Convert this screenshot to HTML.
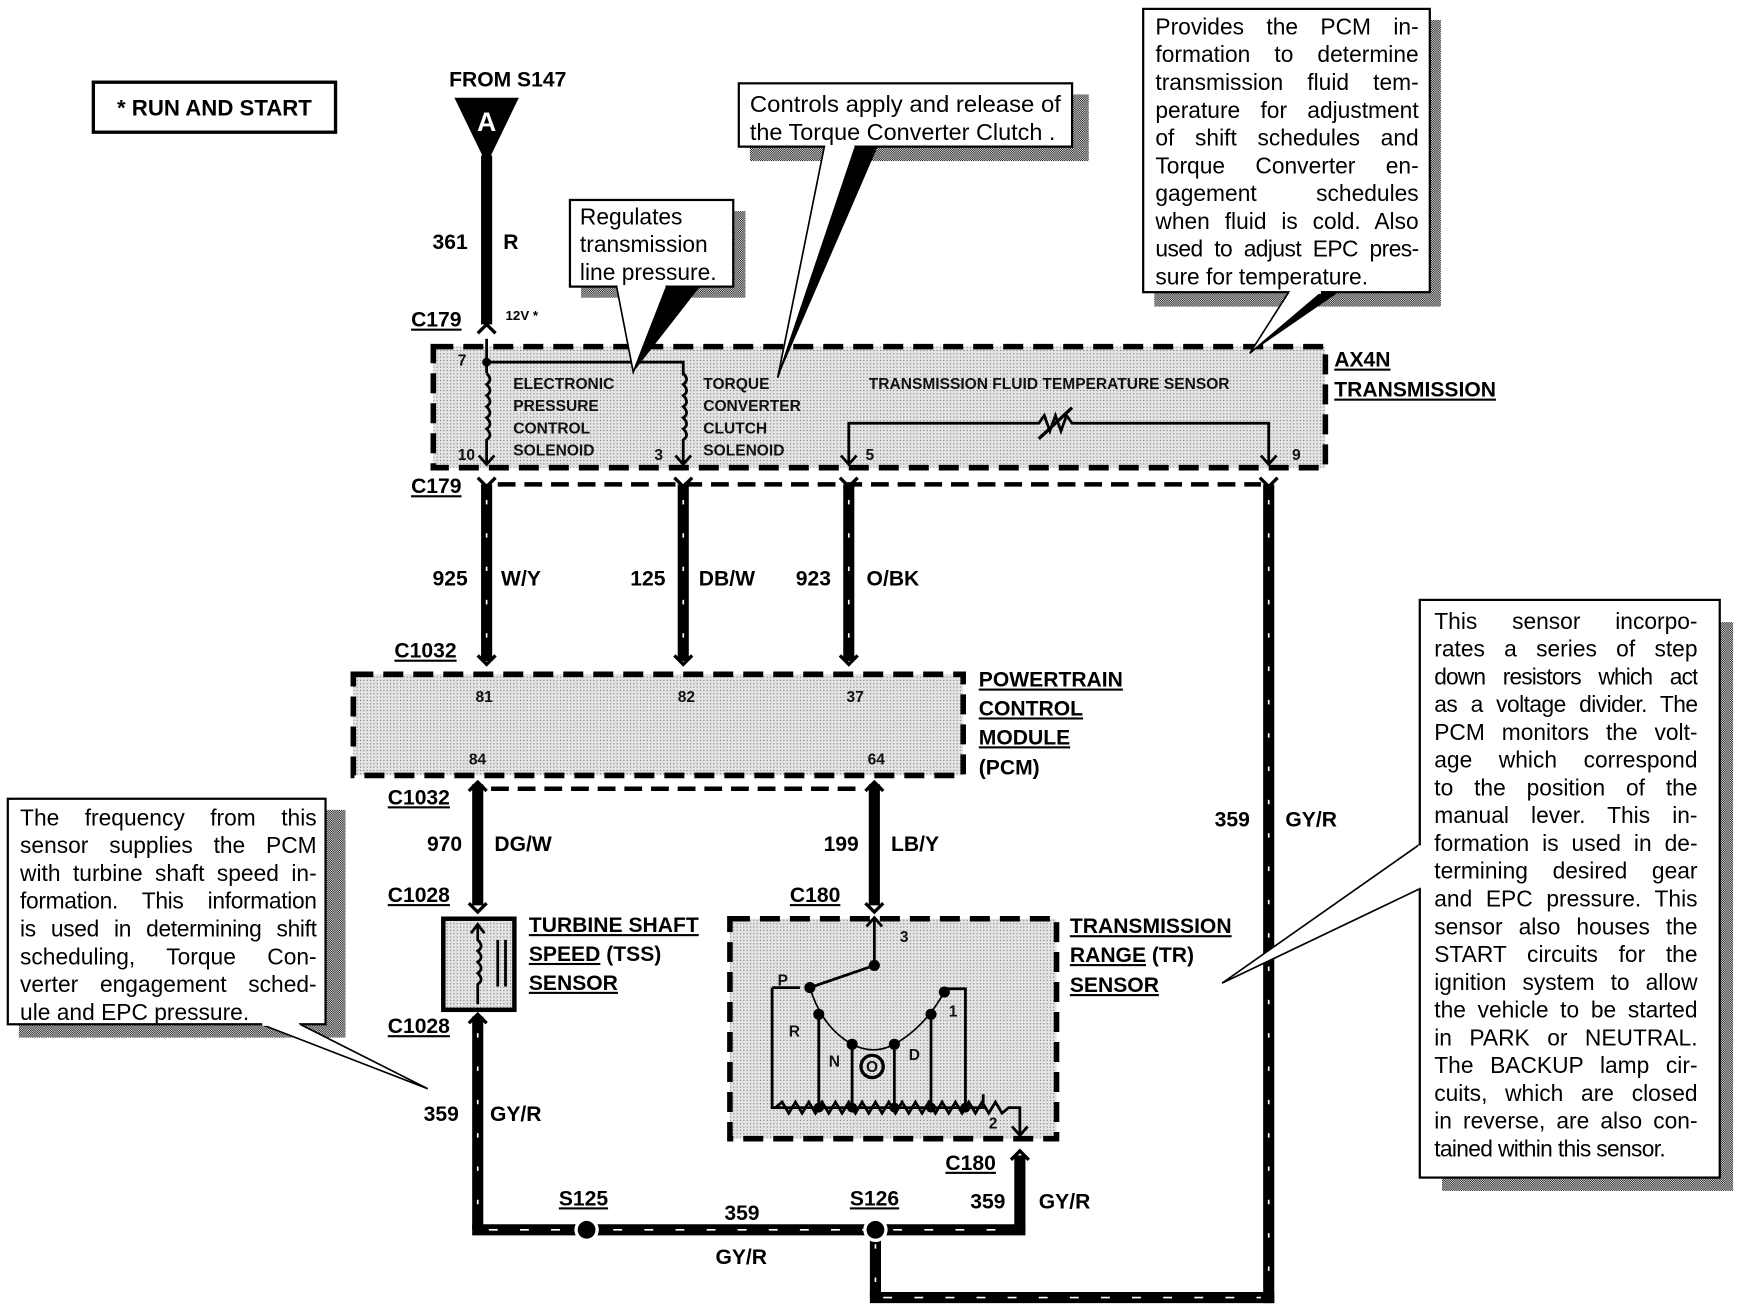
<!DOCTYPE html>
<html><head><meta charset="utf-8"><style>
html,body{margin:0;padding:0;background:#fff;width:1742px;height:1312px;overflow:hidden}
svg{display:block}
text{font-family:"Liberation Sans",Arial,sans-serif}
.b{font-weight:bold}
.lbl{font-weight:bold;font-size:19px}
.sm{font-size:14px;font-weight:bold;fill:#111}
.c{font-size:20.5px}
.fo{font-family:"Liberation Sans",Arial,sans-serif;font-size:20.5px;line-height:25px;color:#000}
.fo div{text-align:justify;text-align-last:justify;white-space:nowrap;height:25px}
.fo div.l{text-align-last:left}
</style></head><body>
<svg width="1742" height="1312" viewBox="0 0 1568 1181" xmlns="http://www.w3.org/2000/svg">
<defs>
<pattern id="st" width="3" height="3" patternUnits="userSpaceOnUse"><rect width="3" height="3" fill="#e4e4e4"/><rect width="1" height="1" fill="#777"/></pattern>
<pattern id="sh" width="2" height="2" patternUnits="userSpaceOnUse"><rect width="2" height="2" fill="#fff"/><rect width="1" height="1" fill="#000"/><rect x="1" y="1" width="1" height="1" fill="#000"/></pattern>
</defs>

<rect x="84" y="74" width="218" height="45" fill="#fff" stroke="#000" stroke-width="3"/>
<text x="193" y="104" text-anchor="middle" class="b" font-size="20">* RUN AND START</text>

<text x="457" y="78" text-anchor="middle" class="lbl" font-size="18">FROM S147</text>
<polygon points="409,88 467,88 438,148" fill="#000"/>
<text x="438" y="118" text-anchor="middle" class="b" font-size="24" fill="#fff">A</text>
<line x1="438" y1="140" x2="438" y2="292" stroke="#000" stroke-width="10"/>
<text x="421" y="224" text-anchor="end" class="lbl">361</text>
<text x="453" y="224" class="lbl">R</text>
<text x="370" y="294" class="lbl" text-decoration="underline">C179</text>
<text x="455" y="288" class="b" font-size="12">12V *</text>
<polyline points="430,300 438,292 446,300" fill="none" stroke="#000" stroke-width="3"/>

<rect x="390" y="312" width="803" height="109" fill="url(#st)" stroke="#000" stroke-width="5" stroke-dasharray="18 9"/>
<text x="1201" y="330" class="lbl" text-decoration="underline">AX4N</text>
<text x="1201" y="357" class="lbl" text-decoration="underline">TRANSMISSION</text>
<text x="412" y="329" class="sm">7</text>
<line x1="438" y1="305" x2="438" y2="336" stroke="#000" stroke-width="2.5"/>
<circle cx="438" cy="326" r="4" fill="#000"/>
<polyline points="438,326 615,326 615,338" fill="none" stroke="#000" stroke-width="2.5"/>
<path d="M438,336 q6,6 0,10 q6,6 0,10 q6,6 0,10 q6,6 0,10 q6,6 0,10 q6,6 0,10 L438,418" fill="none" stroke="#000" stroke-width="2.5"/>
<path d="M615,336 q6,6 0,10 q6,6 0,10 q6,6 0,10 q6,6 0,10 q6,6 0,10 q6,6 0,10 L615,418" fill="none" stroke="#000" stroke-width="2.5"/>
<polyline points="431,410 438,418 445,410" fill="none" stroke="#000" stroke-width="2.5"/>
<polyline points="608,410 615,418 622,410" fill="none" stroke="#000" stroke-width="2.5"/>
<text x="462" y="350" class="sm">ELECTRONIC</text>
<text x="462" y="370" class="sm">PRESSURE</text>
<text x="462" y="390" class="sm">CONTROL</text>
<text x="462" y="410" class="sm">SOLENOID</text>
<text x="412" y="414" class="sm">10</text>
<text x="589" y="414" class="sm">3</text>
<text x="633" y="350" class="sm">TORQUE</text>
<text x="633" y="370" class="sm">CONVERTER</text>
<text x="633" y="390" class="sm">CLUTCH</text>
<text x="633" y="410" class="sm">SOLENOID</text>
<text x="782" y="350" class="sm">TRANSMISSION FLUID TEMPERATURE SENSOR</text>
<polyline points="764,418 764,381 935,381 940,374 945,388 950,374 955,388 960,374 965,381 1142,381 1142,418" fill="none" stroke="#000" stroke-width="2.5"/>
<line x1="935" y1="395" x2="965" y2="367" stroke="#000" stroke-width="3"/>
<polyline points="757,410 764,418 771,410" fill="none" stroke="#000" stroke-width="2.5"/>
<polyline points="1135,410 1142,418 1149,410" fill="none" stroke="#000" stroke-width="2.5"/>
<text x="779" y="414" class="sm">5</text>
<text x="1163" y="414" class="sm">9</text>

<text x="370" y="444" class="lbl" text-decoration="underline">C179</text>
<line x1="448" y1="436" x2="1135" y2="436" stroke="#000" stroke-width="4" stroke-dasharray="16 8"/>
<g stroke="#000" stroke-width="10">
<line x1="438" y1="436" x2="438" y2="595"/>
<line x1="615" y1="436" x2="615" y2="595"/>
<line x1="764" y1="436" x2="764" y2="595"/>
<line x1="1142" y1="436" x2="1142" y2="1173"/>
<line x1="430" y1="706" x2="430" y2="815"/>
<line x1="787" y1="706" x2="787" y2="815"/>
<line x1="430" y1="915" x2="430" y2="1107"/>
<line x1="425" y1="1107" x2="923" y2="1107"/>
<line x1="918" y1="1040" x2="918" y2="1107"/>
<line x1="788" y1="1107" x2="788" y2="1168"/>
<line x1="783" y1="1168" x2="1147" y2="1168"/>
</g>
<g stroke="#fff" stroke-width="1.5" stroke-dasharray="4 26">
<line x1="438" y1="450" x2="438" y2="590"/>
<line x1="615" y1="450" x2="615" y2="590"/>
<line x1="764" y1="450" x2="764" y2="590"/>
<line x1="1142" y1="450" x2="1142" y2="1160"/>
<line x1="430" y1="930" x2="430" y2="1100"/>
<line x1="440" y1="1107" x2="915" y2="1107" stroke-dasharray="8 20"/>
<line x1="788" y1="1120" x2="788" y2="1160"/>
<line x1="795" y1="1168" x2="1135" y2="1168" stroke-dasharray="8 20"/>
</g>
<g fill="none" stroke="#000" stroke-width="3">
<polyline points="430,430 438,438 446,430"/><polyline points="607,430 615,438 623,430"/>
<polyline points="756,430 764,438 772,430"/><polyline points="1134,430 1142,438 1150,430"/>
<polyline points="430,590 438,598 446,590"/><polyline points="607,590 615,598 623,590"/><polyline points="756,590 764,598 772,590"/>
<polyline points="422,712 430,704 438,712"/><polyline points="779,712 787,704 795,712"/>
<polyline points="422,813 430,821 438,813"/><polyline points="779,813 787,821 795,813"/>
<polyline points="422,921 430,913 438,921"/>
<polyline points="910,1044 918,1036 926,1044"/>
</g>
<text x="421" y="527" text-anchor="end" class="lbl">925</text><text x="451" y="527" class="lbl">W/Y</text>
<text x="599" y="527" text-anchor="end" class="lbl">125</text><text x="629" y="527" class="lbl">DB/W</text>
<text x="748" y="527" text-anchor="end" class="lbl">923</text><text x="780" y="527" class="lbl">O/BK</text>

<text x="355" y="592" class="lbl" text-decoration="underline">C1032</text>
<rect x="318" y="607" width="549" height="91" fill="url(#st)" stroke="#000" stroke-width="5" stroke-dasharray="18 9"/>
<text x="428" y="632" class="sm">81</text><text x="610" y="632" class="sm">82</text><text x="762" y="632" class="sm">37</text>
<text x="422" y="688" class="sm">84</text><text x="781" y="688" class="sm">64</text>
<text x="881" y="618" class="lbl" text-decoration="underline">POWERTRAIN</text>
<text x="881" y="644" class="lbl" text-decoration="underline">CONTROL</text>
<text x="881" y="670" class="lbl" text-decoration="underline">MODULE</text>
<text x="881" y="697" class="lbl">(PCM)</text>
<text x="349" y="724" class="lbl" text-decoration="underline">C1032</text>
<line x1="442" y1="710" x2="778" y2="710" stroke="#000" stroke-width="4" stroke-dasharray="16 8"/>
<text x="416" y="766" text-anchor="end" class="lbl">970</text><text x="445" y="766" class="lbl">DG/W</text>
<text x="773" y="766" text-anchor="end" class="lbl">199</text><text x="802" y="766" class="lbl">LB/Y</text>
<text x="1125" y="744" text-anchor="end" class="lbl">359</text><text x="1157" y="744" class="lbl">GY/R</text>

<text x="349" y="812" class="lbl" text-decoration="underline">C1028</text>
<rect x="399" y="827" width="64" height="82" fill="url(#st)" stroke="#000" stroke-width="4"/>
<path d="M430,832 L430,846 q6,6 0,10 q6,6 0,10 q6,6 0,10 q6,6 0,10 L430,904" fill="none" stroke="#000" stroke-width="2.5"/>
<polyline points="424,840 430,832 436,840" fill="none" stroke="#000" stroke-width="2.5"/>
<line x1="448" y1="846" x2="448" y2="888" stroke="#000" stroke-width="2.5"/>
<line x1="455" y1="846" x2="455" y2="888" stroke="#000" stroke-width="2.5"/>
<text x="476" y="839" class="lbl" text-decoration="underline">TURBINE SHAFT</text>
<text x="476" y="865" class="lbl"><tspan text-decoration="underline">SPEED</tspan> (TSS)</text>
<text x="476" y="891" class="lbl" text-decoration="underline">SENSOR</text>
<text x="349" y="930" class="lbl" text-decoration="underline">C1028</text>
<text x="413" y="1009" text-anchor="end" class="lbl">359</text><text x="441" y="1009" class="lbl">GY/R</text>

<text x="711" y="812" class="lbl" text-decoration="underline">C180</text>
<rect x="657" y="827" width="294" height="198" fill="url(#st)" stroke="#000" stroke-width="5" stroke-dasharray="18 9"/>
<text x="963" y="840" class="lbl" text-decoration="underline">TRANSMISSION</text>
<text x="963" y="866" class="lbl"><tspan text-decoration="underline">RANGE</tspan> (TR)</text>
<text x="963" y="893" class="lbl" text-decoration="underline">SENSOR</text>
<g stroke="#000" stroke-width="2.5" fill="none">
<polyline points="780,834 787,826 794,834"/>
<line x1="787" y1="826" x2="787" y2="869"/>
<line x1="787" y1="869" x2="729" y2="889"/>
<line x1="720" y1="889" x2="695" y2="889"/>
<polyline points="695,889 695,997 885,997 885,985"/>
<polyline points="850,890 869,890 869,997"/>
<line x1="737" y1="913" x2="737" y2="997"/>
<line x1="767" y1="940" x2="767" y2="997"/>
<line x1="805" y1="940" x2="805" y2="997"/>
<line x1="838" y1="913" x2="838" y2="997"/>
<path d="M729,889 Q740,925 767,940 Q786,950 805,940 Q832,925 850,893" stroke-width="1.5"/>
<polyline points="698,997 704,992 710,1002 716,992 722,1002 728,992 734,1002 740,992 746,1002 752,992 758,1002 764,992 770,1002 776,992 782,1002 788,992 794,1002 800,992 806,1002 812,992 818,1002 824,992 830,1002 836,992 842,1002 848,992 854,1002 860,992 866,1002 872,992 878,1002 884,992 890,1002 896,992 902,1002 908,997 918,997 918,1020"/>
<polyline points="911,1014 918,1022 925,1014"/>
</g>
<g fill="#000">
<circle cx="787" cy="869" r="5"/><circle cx="729" cy="889" r="5"/><circle cx="737" cy="913" r="5"/>
<circle cx="767" cy="940" r="5"/><circle cx="805" cy="940" r="5"/><circle cx="838" cy="913" r="5"/><circle cx="850" cy="893" r="5"/>
<circle cx="737" cy="997" r="4.5"/><circle cx="767" cy="997" r="4.5"/><circle cx="805" cy="997" r="4.5"/><circle cx="838" cy="997" r="4.5"/><circle cx="869" cy="997" r="4.5"/>
</g>
<circle cx="785" cy="960" r="10" fill="none" stroke="#000" stroke-width="3"/>
<text x="785" y="965" text-anchor="middle" class="sm" font-size="12">O</text>
<text x="810" y="848" class="sm">3</text><text x="700" y="887" class="sm">P</text><text x="710" y="933" class="sm">R</text>
<text x="746" y="960" class="sm">N</text><text x="818" y="954" class="sm">D</text><text x="854" y="915" class="sm">1</text><text x="890" y="1016" class="sm">2</text>
<text x="851" y="1053" class="lbl" text-decoration="underline">C180</text>
<text x="905" y="1088" text-anchor="end" class="lbl">359</text><text x="935" y="1088" class="lbl">GY/R</text>

<circle cx="528" cy="1107" r="11" fill="#fff"/>
<circle cx="528" cy="1107" r="8" fill="#000"/>
<circle cx="788" cy="1107" r="11" fill="#fff"/>
<circle cx="788" cy="1107" r="8" fill="#000"/>
<text x="503" y="1085" class="lbl" text-decoration="underline">S125</text>
<text x="765" y="1085" class="lbl" text-decoration="underline">S126</text>
<text x="652" y="1098" class="lbl">359</text>
<text x="644" y="1138" class="lbl">GY/R</text>

<rect x="523" y="190" width="148" height="78" fill="url(#sh)"/>
<polygon points="600,258 630,258 570,335" fill="#000"/>
<rect x="513" y="180" width="147" height="78" fill="#fff" stroke="#000" stroke-width="2"/>
<polyline points="555,258 570,335 600,258" fill="#fff" stroke="#000" stroke-width="1.5"/>
<line x1="556" y1="258" x2="599" y2="258" stroke="#fff" stroke-width="3"/>
<text x="522" y="202" class="c">Regulates</text>
<text x="522" y="227" class="c">transmission</text>
<text x="522" y="252" class="c">line pressure.</text>

<rect x="675" y="85" width="305" height="60" fill="url(#sh)"/>
<polygon points="760,132 790,132 700,340" fill="#000"/>
<rect x="665" y="75" width="300" height="57" fill="#fff" stroke="#000" stroke-width="2"/>
<polyline points="742,132 700,340 770,132" fill="#fff" stroke="#000" stroke-width="1.5"/>
<line x1="743" y1="132" x2="769" y2="132" stroke="#fff" stroke-width="3"/>
<text x="675" y="101" class="c" textLength="280" lengthAdjust="spacingAndGlyphs">Controls apply and release of</text>
<text x="675" y="126" class="c" textLength="275" lengthAdjust="spacingAndGlyphs">the Torque Converter Clutch .</text>

<rect x="1039" y="18" width="258" height="258" fill="url(#sh)"/>
<polygon points="1175,263 1205,263 1125,318" fill="#000"/>
<rect x="1029" y="8" width="258" height="255" fill="#fff" stroke="#000" stroke-width="2"/>
<polyline points="1160,263 1125,318 1190,263" fill="#fff" stroke="#000" stroke-width="1.5"/>
<line x1="1161" y1="263" x2="1189" y2="263" stroke="#fff" stroke-width="3"/>
<foreignObject x="1040" y="12" width="237" height="250"><div xmlns="http://www.w3.org/1999/xhtml" class="fo">
<div>Provides the PCM in-</div><div>formation to determine</div><div>transmission fluid tem-</div><div>perature for adjustment</div><div>of shift schedules and</div><div>Torque Converter en-</div><div>gagement schedules</div><div>when fluid is cold. Also</div><div style="letter-spacing:-0.5px">used to adjust EPC pres-</div><div class="l">sure for temperature.</div>
</div></foreignObject>

<rect x="17" y="729" width="294" height="205" fill="url(#sh)"/>
<rect x="7" y="719" width="286" height="203" fill="#fff" stroke="#000" stroke-width="2"/>
<polyline points="235,922 385,980 270,922" fill="#fff" stroke="#000" stroke-width="1.5"/>
<line x1="236" y1="922" x2="269" y2="922" stroke="#fff" stroke-width="3"/>
<foreignObject x="18" y="724" width="267" height="200"><div xmlns="http://www.w3.org/1999/xhtml" class="fo">
<div>The frequency from this</div><div>sensor supplies the PCM</div><div>with turbine shaft speed in-</div><div style="letter-spacing:-0.3px">formation. This information</div><div style="letter-spacing:-0.3px">is used in determining shift</div><div>scheduling, Torque Con-</div><div>verter engagement sched-</div><div class="l">ule and EPC pressure.</div>
</div></foreignObject>

<rect x="1298" y="560" width="262" height="512" fill="url(#sh)"/>
<rect x="1278" y="540" width="270" height="520" fill="#fff" stroke="#000" stroke-width="2"/>
<polyline points="1278,760 1100,885 1278,800" fill="#fff" stroke="#000" stroke-width="1.5"/>
<line x1="1278" y1="761" x2="1278" y2="799" stroke="#fff" stroke-width="3"/>
<foreignObject x="1291" y="547" width="237" height="510"><div xmlns="http://www.w3.org/1999/xhtml" class="fo">
<div>This sensor incorpo-</div><div>rates a series of step</div><div style="letter-spacing:-0.8px">down resistors which act</div><div style="letter-spacing:-0.5px">as a voltage divider. The</div><div>PCM monitors the volt-</div><div>age which correspond</div><div>to the position of the</div><div>manual lever. This in-</div><div>formation is used in de-</div><div>termining desired gear</div><div>and EPC pressure. This</div><div>sensor also houses the</div><div>START circuits for the</div><div>ignition system to allow</div><div>the vehicle to be started</div><div>in PARK or NEUTRAL.</div><div>The BACKUP lamp cir-</div><div>cuits, which are closed</div><div>in reverse, are also con-</div><div class="l" style="letter-spacing:-0.6px">tained within this sensor.</div>
</div></foreignObject>
</svg>
</body></html>
